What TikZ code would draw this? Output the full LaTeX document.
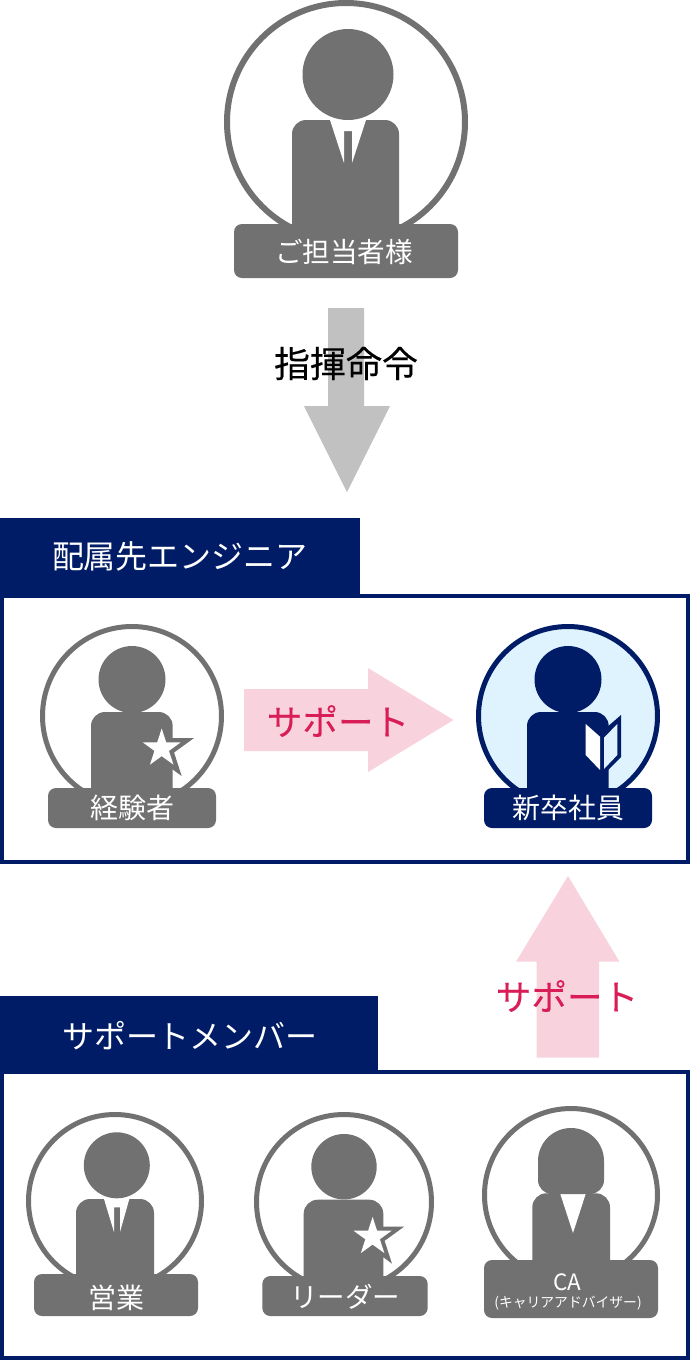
\documentclass[tikz,border=0pt]{standalone}
\usepackage{fontspec}
\setmainfont{Noto Sans CJK JP}
\newfontfamily\heavier[FakeBold=0.25]{Noto Sans CJK JP}
\definecolor{navy}{HTML}{001C66}
\definecolor{gry}{HTML}{717171}
\definecolor{arrowgrey}{HTML}{C1C1C1}
\definecolor{pinkfill}{HTML}{F8D3DE}
\definecolor{pinktext}{HTML}{D91E57}
\definecolor{paleblue}{HTML}{DFF3FF}
\newcommand{\fs}[1]{\fontsize{#1}{#1}\selectfont}
% star: centre, radius, colour
\newcommand{\pstar}[3]{\fill[#3,shift={(#1)}] (-90:#2) -- (-54:#2*0.382) -- (-18:#2) -- (18:#2*0.382) -- (54:#2) -- (90:#2*0.382) -- (126:#2) -- (162:#2*0.382) -- (198:#2) -- (234:#2*0.382) -- cycle;}
\tikzset{
  x=1pt,y=-1pt,
  ring/.style={draw=gry,line width=5pt,fill=white},
  lab/.style={inner sep=0pt,text=white,anchor=center},
  tag/.style={fill=gry,rounded corners=8pt},
  head/.style={fill=gry},
  torso/.style={fill=gry,rounded corners=14pt},
  secframe/.style={draw=navy,line width=4pt,fill=white},
}
\begin{document}
\begin{tikzpicture}
\useasboundingbox (0,0) rectangle (690,1361);
\fill[white] (0,0) rectangle (690,1361);

% ---- top person
\draw[ring,line width=6pt] (346,122) circle (119);
\fill[torso] (292,260) -- (292,120) -- (399,120) -- (399,260) -- cycle;
\fill[white] (330,120) -- (344,163) -- (344,131) -- (352,131) -- (352,163) -- (366,120) -- cycle;
\fill[head] (348,74.5) circle (45.5);
\fill[tag] (234,224) rectangle (458,278);
\node[lab,font=\fs{27.6}] (boss) at (344,252) {ご担当者様};

% ---- command arrow
\fill[arrowgrey] (328,308) -- (364,308) -- (364,406) -- (390,406) -- (347,492) -- (304,406) -- (328,406) -- cycle;
\node[inner sep=0pt,font=\heavier\fs{36}] (cmd) at (346,363.5) {指揮命令};

% ---- section 1
\draw[secframe] (2,596) rectangle (688,862);
\fill[navy] (0,518) rectangle (360,598);
\node[lab,font=\fs{32}] (sec1) at (180,556) {配属先エンジニア};

% experienced
\draw[ring] (132,716) circle (89.5);
\fill[torso] (91,800) -- (91,712) -- (172.7,712) -- (172.7,800) -- cycle;
\fill[head] (132,679.5) circle (33.5);
\pstar{161.7,748.5}{34}{gry}
\pstar{161.7,748.5}{20}{white}
\fill[tag] (48,788) rectangle (216,828);
\node[lab,font=\fs{28}] (exp) at (132.5,808) {経験者};

% support arrow right
\fill[pinkfill] (244,689) -- (368,689) -- (368,668) -- (453.5,720) -- (368,772) -- (368,751) -- (244,751) -- cycle;
\node[inner sep=0pt,text=pinktext,font=\heavier\fs{35.6}] (sup1) at (338,721) {サポート};

% new graduate
\draw[ring,draw=navy,fill=paleblue] (568,716) circle (89.5);
\fill[torso,fill=navy] (527,800) -- (527,712) -- (608.7,712) -- (608.7,800) -- cycle;
\fill[navy] (568,679.5) circle (33.5);
\fill[navy] (606,728) -- (621,715) -- (621,757) -- (606,772) -- cycle;
\fill[white] (585.7,724) -- (600,736.7) -- (600,770) -- (585.7,755) -- cycle;
\fill[paleblue] (604,737.7) -- (617.3,724) -- (617.3,755) -- (604,769) -- cycle;
\fill[tag,fill=navy] (484,788) rectangle (652,828);
\node[lab,font=\fs{28}] (newbie) at (568,808) {新卒社員};

% support arrow up
\fill[pinkfill] (568,876) -- (619.5,961.7) -- (599,961.7) -- (599,1057.7) -- (536.7,1057.7) -- (536.7,961.7) -- (516,961.7) -- cycle;
\node[inner sep=0pt,text=pinktext,font=\heavier\fs{35.6}] (sup2) at (567,996) {サポート};

% ---- section 2
\draw[secframe] (2,1072) rectangle (688,1358);
\fill[navy] (0,996) rectangle (378,1074);
\node[lab,font=\fs{32}] (sec2) at (190,1036) {サポートメンバー};

% sales
\draw[ring] (115,1201) circle (86.5);
\fill[torso] (76,1290) -- (76,1199) -- (154,1199) -- (154,1290) -- cycle;
\fill[white] (104,1199) -- (114,1232) -- (114,1207.3) -- (120,1207.3) -- (120,1232) -- (129.3,1199) -- cycle;
\fill[head] (116.8,1165.3) circle (33);
\fill[tag] (34,1274) rectangle (198,1316);
\node[lab,font=\fs{28}] (sales) at (116,1298) {営業};

% leader
\draw[ring] (344,1202) circle (87.5);
\fill[torso] (303.7,1290) -- (303.7,1199.7) -- (383.3,1199.7) -- (383.3,1290) -- cycle;
\fill[head] (344,1166.7) circle (32.7);
\pstar{372.6,1236.9}{33}{gry}
\pstar{372.6,1236.9}{20}{white}
\fill[tag] (262.3,1276) rectangle (427.7,1316);
\node[lab,font=\fs{27.5}] (leader) at (345,1297) {リーダー};

% CA
\draw[ring] (571,1195) circle (86.5);
\fill[torso] (532.3,1275) -- (532.3,1193.3) -- (610,1193.3) -- (610,1275) -- cycle;
\fill[white] (560,1193) -- (586,1193) -- (573,1233) -- cycle;
\fill[head] (538,1161) arc[start angle=180,end angle=360,x radius=33,y radius=33] -- (604,1180) arc[start angle=0,end angle=90,radius=14] -- (552,1194) arc[start angle=90,end angle=180,radius=14] -- cycle;
\fill[tag] (484,1260) rectangle (658,1318);
\node[lab,font=\fs{22.5}] (ca) at (567.5,1282) {CA};
\node[lab,font=\fs{13.8}] (cacap) at (568,1303) {(キャリアアドバイザー)};
\end{tikzpicture}
\end{document}
